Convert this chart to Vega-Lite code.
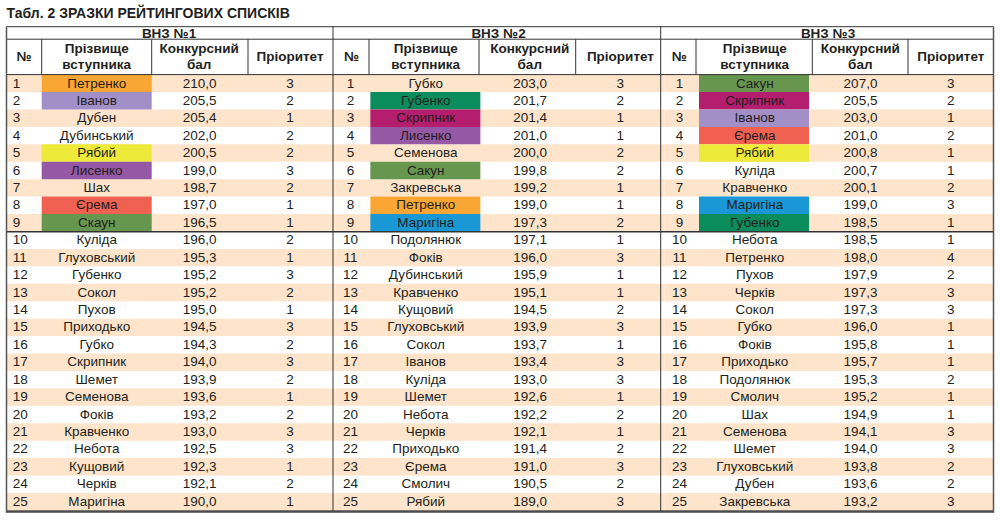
{
  "$schema": "https://vega.github.io/schema/vega-lite/v6.json",
  "width": 1000,
  "height": 523,
  "autosize": {"type": "none"},
  "padding": 0,
  "background": "white",
  "config": {
    "view": {"stroke": null},
    "locale": {"number": {"decimal": ",", "thousands": " ", "grouping": [3], "currency": ["", ""]}},
    "text": {"font": "Liberation Sans", "fill": "#231f20"}
  },
  "datasets": {
    "rows": [
      {"vnz": "ВНЗ №1", "n": 1, "name": "Петренко", "score": 210.0, "prio": 3, "hl": true},
      {"vnz": "ВНЗ №1", "n": 2, "name": "Іванов", "score": 205.5, "prio": 2, "hl": true},
      {"vnz": "ВНЗ №1", "n": 3, "name": "Дубен", "score": 205.4, "prio": 1, "hl": false},
      {"vnz": "ВНЗ №1", "n": 4, "name": "Дубинський", "score": 202.0, "prio": 2, "hl": false},
      {"vnz": "ВНЗ №1", "n": 5, "name": "Рябий", "score": 200.5, "prio": 2, "hl": true},
      {"vnz": "ВНЗ №1", "n": 6, "name": "Лисенко", "score": 199.0, "prio": 3, "hl": true},
      {"vnz": "ВНЗ №1", "n": 7, "name": "Шах", "score": 198.7, "prio": 2, "hl": false},
      {"vnz": "ВНЗ №1", "n": 8, "name": "Єрема", "score": 197.0, "prio": 1, "hl": true},
      {"vnz": "ВНЗ №1", "n": 9, "name": "Скаун", "score": 196.5, "prio": 1, "hl": true},
      {"vnz": "ВНЗ №1", "n": 10, "name": "Куліда", "score": 196.0, "prio": 2, "hl": false},
      {"vnz": "ВНЗ №1", "n": 11, "name": "Глуховський", "score": 195.3, "prio": 1, "hl": false},
      {"vnz": "ВНЗ №1", "n": 12, "name": "Губенко", "score": 195.2, "prio": 3, "hl": false},
      {"vnz": "ВНЗ №1", "n": 13, "name": "Сокол", "score": 195.2, "prio": 2, "hl": false},
      {"vnz": "ВНЗ №1", "n": 14, "name": "Пухов", "score": 195.0, "prio": 1, "hl": false},
      {"vnz": "ВНЗ №1", "n": 15, "name": "Приходько", "score": 194.5, "prio": 3, "hl": false},
      {"vnz": "ВНЗ №1", "n": 16, "name": "Губко", "score": 194.3, "prio": 2, "hl": false},
      {"vnz": "ВНЗ №1", "n": 17, "name": "Скрипник", "score": 194.0, "prio": 3, "hl": false},
      {"vnz": "ВНЗ №1", "n": 18, "name": "Шемет", "score": 193.9, "prio": 2, "hl": false},
      {"vnz": "ВНЗ №1", "n": 19, "name": "Семенова", "score": 193.6, "prio": 1, "hl": false},
      {"vnz": "ВНЗ №1", "n": 20, "name": "Фоків", "score": 193.2, "prio": 2, "hl": false},
      {"vnz": "ВНЗ №1", "n": 21, "name": "Кравченко", "score": 193.0, "prio": 3, "hl": false},
      {"vnz": "ВНЗ №1", "n": 22, "name": "Небота", "score": 192.5, "prio": 3, "hl": false},
      {"vnz": "ВНЗ №1", "n": 23, "name": "Кущовий", "score": 192.3, "prio": 1, "hl": false},
      {"vnz": "ВНЗ №1", "n": 24, "name": "Черків", "score": 192.1, "prio": 2, "hl": false},
      {"vnz": "ВНЗ №1", "n": 25, "name": "Маригіна", "score": 190.0, "prio": 1, "hl": false},
      {"vnz": "ВНЗ №2", "n": 1, "name": "Губко", "score": 203.0, "prio": 3, "hl": false},
      {"vnz": "ВНЗ №2", "n": 2, "name": "Губенко", "score": 201.7, "prio": 2, "hl": true},
      {"vnz": "ВНЗ №2", "n": 3, "name": "Скрипник", "score": 201.4, "prio": 1, "hl": true},
      {"vnz": "ВНЗ №2", "n": 4, "name": "Лисенко", "score": 201.0, "prio": 1, "hl": true},
      {"vnz": "ВНЗ №2", "n": 5, "name": "Семенова", "score": 200.0, "prio": 2, "hl": false},
      {"vnz": "ВНЗ №2", "n": 6, "name": "Сакун", "score": 199.8, "prio": 2, "hl": true},
      {"vnz": "ВНЗ №2", "n": 7, "name": "Закревська", "score": 199.2, "prio": 1, "hl": false},
      {"vnz": "ВНЗ №2", "n": 8, "name": "Петренко", "score": 199.0, "prio": 1, "hl": true},
      {"vnz": "ВНЗ №2", "n": 9, "name": "Маригіна", "score": 197.3, "prio": 2, "hl": true},
      {"vnz": "ВНЗ №2", "n": 10, "name": "Подолянюк", "score": 197.1, "prio": 1, "hl": false},
      {"vnz": "ВНЗ №2", "n": 11, "name": "Фоків", "score": 196.0, "prio": 3, "hl": false},
      {"vnz": "ВНЗ №2", "n": 12, "name": "Дубинський", "score": 195.9, "prio": 1, "hl": false},
      {"vnz": "ВНЗ №2", "n": 13, "name": "Кравченко", "score": 195.1, "prio": 1, "hl": false},
      {"vnz": "ВНЗ №2", "n": 14, "name": "Кущовий", "score": 194.5, "prio": 2, "hl": false},
      {"vnz": "ВНЗ №2", "n": 15, "name": "Глуховський", "score": 193.9, "prio": 3, "hl": false},
      {"vnz": "ВНЗ №2", "n": 16, "name": "Сокол", "score": 193.7, "prio": 1, "hl": false},
      {"vnz": "ВНЗ №2", "n": 17, "name": "Іванов", "score": 193.4, "prio": 3, "hl": false},
      {"vnz": "ВНЗ №2", "n": 18, "name": "Куліда", "score": 193.0, "prio": 3, "hl": false},
      {"vnz": "ВНЗ №2", "n": 19, "name": "Шемет", "score": 192.6, "prio": 1, "hl": false},
      {"vnz": "ВНЗ №2", "n": 20, "name": "Небота", "score": 192.2, "prio": 2, "hl": false},
      {"vnz": "ВНЗ №2", "n": 21, "name": "Черків", "score": 192.1, "prio": 1, "hl": false},
      {"vnz": "ВНЗ №2", "n": 22, "name": "Приходько", "score": 191.4, "prio": 2, "hl": false},
      {"vnz": "ВНЗ №2", "n": 23, "name": "Єрема", "score": 191.0, "prio": 3, "hl": false},
      {"vnz": "ВНЗ №2", "n": 24, "name": "Смолич", "score": 190.5, "prio": 2, "hl": false},
      {"vnz": "ВНЗ №2", "n": 25, "name": "Рябий", "score": 189.0, "prio": 3, "hl": false},
      {"vnz": "ВНЗ №3", "n": 1, "name": "Сакун", "score": 207.0, "prio": 3, "hl": true},
      {"vnz": "ВНЗ №3", "n": 2, "name": "Скрипник", "score": 205.5, "prio": 2, "hl": true},
      {"vnz": "ВНЗ №3", "n": 3, "name": "Іванов", "score": 203.0, "prio": 1, "hl": true},
      {"vnz": "ВНЗ №3", "n": 4, "name": "Єрема", "score": 201.0, "prio": 2, "hl": true},
      {"vnz": "ВНЗ №3", "n": 5, "name": "Рябий", "score": 200.8, "prio": 1, "hl": true},
      {"vnz": "ВНЗ №3", "n": 6, "name": "Куліда", "score": 200.7, "prio": 1, "hl": false},
      {"vnz": "ВНЗ №3", "n": 7, "name": "Кравченко", "score": 200.1, "prio": 2, "hl": false},
      {"vnz": "ВНЗ №3", "n": 8, "name": "Маригіна", "score": 199.0, "prio": 3, "hl": true},
      {"vnz": "ВНЗ №3", "n": 9, "name": "Губенко", "score": 198.5, "prio": 1, "hl": true},
      {"vnz": "ВНЗ №3", "n": 10, "name": "Небота", "score": 198.5, "prio": 1, "hl": false},
      {"vnz": "ВНЗ №3", "n": 11, "name": "Петренко", "score": 198.0, "prio": 4, "hl": false},
      {"vnz": "ВНЗ №3", "n": 12, "name": "Пухов", "score": 197.9, "prio": 2, "hl": false},
      {"vnz": "ВНЗ №3", "n": 13, "name": "Черків", "score": 197.3, "prio": 3, "hl": false},
      {"vnz": "ВНЗ №3", "n": 14, "name": "Сокол", "score": 197.3, "prio": 3, "hl": false},
      {"vnz": "ВНЗ №3", "n": 15, "name": "Губко", "score": 196.0, "prio": 1, "hl": false},
      {"vnz": "ВНЗ №3", "n": 16, "name": "Фоків", "score": 195.8, "prio": 1, "hl": false},
      {"vnz": "ВНЗ №3", "n": 17, "name": "Приходько", "score": 195.7, "prio": 1, "hl": false},
      {"vnz": "ВНЗ №3", "n": 18, "name": "Подолянюк", "score": 195.3, "prio": 2, "hl": false},
      {"vnz": "ВНЗ №3", "n": 19, "name": "Смолич", "score": 195.2, "prio": 1, "hl": false},
      {"vnz": "ВНЗ №3", "n": 20, "name": "Шах", "score": 194.9, "prio": 1, "hl": false},
      {"vnz": "ВНЗ №3", "n": 21, "name": "Семенова", "score": 194.1, "prio": 3, "hl": false},
      {"vnz": "ВНЗ №3", "n": 22, "name": "Шемет", "score": 194.0, "prio": 3, "hl": false},
      {"vnz": "ВНЗ №3", "n": 23, "name": "Глуховський", "score": 193.8, "prio": 2, "hl": false},
      {"vnz": "ВНЗ №3", "n": 24, "name": "Дубен", "score": 193.6, "prio": 2, "hl": false},
      {"vnz": "ВНЗ №3", "n": 25, "name": "Закревська", "score": 193.2, "prio": 3, "hl": false}
    ]
  },
  "resolve": {"scale": {"x": "independent", "y": "independent", "color": "independent"}},
  "layer": [
    {
      "data": {"name": "rows"},
      "transform": [{"filter": "datum.n % 2 == 1"}],
      "mark": {"type": "rect", "fill": "#fde4ca"},
      "encoding": {
        "x": {"field": "vnz", "type": "nominal", "scale": {"type": "band", "domain": ["ВНЗ №1", "ВНЗ №2", "ВНЗ №3"], "range": [6.5, 993.5], "paddingInner": 0, "paddingOuter": 0}, "axis": null},
        "y": {"field": "n", "type": "ordinal", "scale": {"type": "band", "domain": [1,2,3,4,5,6,7,8,9,10,11,12,13,14,15,16,17,18,19,20,21,22,23,24,25], "range": [74.6, 510.4], "paddingInner": 0, "paddingOuter": 0}, "axis": null}
      }
    },
    {
      "data": {"name": "rows"},
      "transform": [{"filter": "datum.hl"}],
      "mark": {"type": "rect", "width": 110},
      "encoding": {
        "x": {"field": "vnz", "type": "nominal", "scale": {"type": "point", "domain": ["ВНЗ №1", "ВНЗ №2", "ВНЗ №3"], "range": [96.7, 754], "padding": 0}, "axis": null},
        "y": {"field": "n", "type": "ordinal", "scale": {"type": "band", "domain": [1,2,3,4,5,6,7,8,9,10,11,12,13,14,15,16,17,18,19,20,21,22,23,24,25], "range": [74.6, 510.4], "paddingInner": 0, "paddingOuter": 0}, "axis": null},
        "color": {"field": "name", "type": "nominal", "legend": null, "scale": {
          "domain": ["Петренко", "Іванов", "Рябий", "Лисенко", "Єрема", "Скаун", "Сакун", "Губенко", "Скрипник", "Маригіна"],
          "range": ["#f9a634", "#a38fc7", "#eeea3a", "#9558a5", "#f16152", "#67964e", "#67964e", "#0b8c5c", "#b51e6e", "#1a97d5"]}}
      }
    },
    {
      "data": {"name": "rows"},
      "transform": [{"filter": "datum.vnz == 'ВНЗ №1'"}],
      "mark": {"type": "text", "align": "left", "baseline": "middle", "fontSize": 13.5},
      "encoding": {
        "x": {"field": "vnz", "type": "nominal", "scale": {"type": "point", "domain": ["ВНЗ №1"], "range": [12.7, 12.7], "padding": 0}, "axis": null},
        "y": {"field": "n", "type": "ordinal", "scale": {"type": "point", "domain": [1,2,3,4,5,6,7,8,9,10,11,12,13,14,15,16,17,18,19,20,21,22,23,24,25], "range": [83.5, 501.7], "padding": 0}, "axis": null},
        "text": {"field": "n", "type": "ordinal"}
      }
    },
    {
      "data": {"name": "rows"},
      "transform": [{"filter": "datum.vnz != 'ВНЗ №1'"}],
      "mark": {"type": "text", "align": "center", "baseline": "middle", "fontSize": 13.5},
      "encoding": {
        "x": {"field": "vnz", "type": "nominal", "scale": {"type": "point", "domain": ["ВНЗ №2", "ВНЗ №3"], "range": [350.5, 679.5], "padding": 0}, "axis": null},
        "y": {"field": "n", "type": "ordinal", "scale": {"type": "point", "domain": [1,2,3,4,5,6,7,8,9,10,11,12,13,14,15,16,17,18,19,20,21,22,23,24,25], "range": [83.5, 501.7], "padding": 0}, "axis": null},
        "text": {"field": "n", "type": "ordinal"}
      }
    },
    {
      "data": {"name": "rows"},
      "mark": {"type": "text", "align": "center", "baseline": "middle", "fontSize": 13.5},
      "encoding": {
        "x": {"field": "vnz", "type": "nominal", "scale": {"type": "point", "domain": ["ВНЗ №1", "ВНЗ №2", "ВНЗ №3"], "range": [96.7, 754.8], "padding": 0}, "axis": null},
        "y": {"field": "n", "type": "ordinal", "scale": {"type": "point", "domain": [1,2,3,4,5,6,7,8,9,10,11,12,13,14,15,16,17,18,19,20,21,22,23,24,25], "range": [83.5, 501.7], "padding": 0}, "axis": null},
        "text": {"field": "name", "type": "nominal"}
      }
    },
    {
      "data": {"name": "rows"},
      "mark": {"type": "text", "align": "center", "baseline": "middle", "fontSize": 13.5},
      "encoding": {
        "x": {"field": "vnz", "type": "nominal", "scale": {"type": "point", "domain": ["ВНЗ №1", "ВНЗ №2", "ВНЗ №3"], "range": [199.7, 860.5], "padding": 0}, "axis": null},
        "y": {"field": "n", "type": "ordinal", "scale": {"type": "point", "domain": [1,2,3,4,5,6,7,8,9,10,11,12,13,14,15,16,17,18,19,20,21,22,23,24,25], "range": [83.5, 501.7], "padding": 0}, "axis": null},
        "text": {"field": "score", "type": "quantitative", "format": ".1f"}
      }
    },
    {
      "data": {"name": "rows"},
      "mark": {"type": "text", "align": "center", "baseline": "middle", "fontSize": 13.5},
      "encoding": {
        "x": {"field": "vnz", "type": "nominal", "scale": {"type": "point", "domain": ["ВНЗ №1", "ВНЗ №2", "ВНЗ №3"], "range": [290, 950.7], "padding": 0}, "axis": null},
        "y": {"field": "n", "type": "ordinal", "scale": {"type": "point", "domain": [1,2,3,4,5,6,7,8,9,10,11,12,13,14,15,16,17,18,19,20,21,22,23,24,25], "range": [83.5, 501.7], "padding": 0}, "axis": null},
        "text": {"field": "prio", "type": "quantitative"}
      }
    },
    {
      "data": {"name": "rows"},
      "transform": [{"filter": "datum.n == 1"}],
      "mark": {"type": "text", "align": "center", "baseline": "middle", "fontSize": 13.5, "fontWeight": "bold"},
      "encoding": {
        "x": {"field": "vnz", "type": "nominal", "scale": {"type": "point", "domain": ["ВНЗ №1", "ВНЗ №2", "ВНЗ №3"], "range": [169, 828], "padding": 0}, "axis": null},
        "y": {"datum": 33.5, "type": "quantitative", "scale": {"domain": [0, 523], "reverse": true, "nice": false, "zero": false}, "axis": null},
        "text": {"field": "vnz", "type": "nominal"}
      }
    },
    {
      "data": {"name": "rows"},
      "transform": [{"filter": "datum.n == 1"}],
      "mark": {"type": "text", "align": "center", "baseline": "middle", "fontSize": 13.5, "fontWeight": "bold", "text": "№"},
      "encoding": {
        "x": {"field": "vnz", "type": "nominal", "scale": {"type": "point", "domain": ["ВНЗ №1", "ВНЗ №2", "ВНЗ №3"], "range": [24, 679.3], "padding": 0}, "axis": null},
        "y": {"datum": 57, "type": "quantitative", "scale": {"domain": [0, 523], "reverse": true, "nice": false, "zero": false}, "axis": null}
      }
    },
    {
      "data": {"name": "rows"},
      "transform": [{"filter": "datum.n == 1"}],
      "mark": {"type": "text", "align": "center", "baseline": "middle", "fontSize": 13.5, "fontWeight": "bold", "lineHeight": 15.7, "text": ["Прізвище", "вступника"]},
      "encoding": {
        "x": {"field": "vnz", "type": "nominal", "scale": {"type": "point", "domain": ["ВНЗ №1", "ВНЗ №2", "ВНЗ №3"], "range": [96.7, 754.7], "padding": 0}, "axis": null},
        "y": {"datum": 49.4, "type": "quantitative", "scale": {"domain": [0, 523], "reverse": true, "nice": false, "zero": false}, "axis": null}
      }
    },
    {
      "data": {"name": "rows"},
      "transform": [{"filter": "datum.n == 1"}],
      "mark": {"type": "text", "align": "center", "baseline": "middle", "fontSize": 13.5, "fontWeight": "bold", "lineHeight": 15.7, "text": ["Конкурсний", "бал"]},
      "encoding": {
        "x": {"field": "vnz", "type": "nominal", "scale": {"type": "point", "domain": ["ВНЗ №1", "ВНЗ №2", "ВНЗ №3"], "range": [199.2, 860.3], "padding": 0}, "axis": null},
        "y": {"datum": 49.4, "type": "quantitative", "scale": {"domain": [0, 523], "reverse": true, "nice": false, "zero": false}, "axis": null}
      }
    },
    {
      "data": {"name": "rows"},
      "transform": [{"filter": "datum.n == 1"}],
      "mark": {"type": "text", "align": "center", "baseline": "middle", "fontSize": 13.5, "fontWeight": "bold", "text": "Пріоритет"},
      "encoding": {
        "x": {"field": "vnz", "type": "nominal", "scale": {"type": "point", "domain": ["ВНЗ №1", "ВНЗ №2", "ВНЗ №3"], "range": [290, 950.8], "padding": 0}, "axis": null},
        "y": {"datum": 57, "type": "quantitative", "scale": {"domain": [0, 523], "reverse": true, "nice": false, "zero": false}, "axis": null}
      }
    },
    {
      "data": {"name": "rows"},
      "transform": [{"filter": "datum.n == 1 && datum.vnz == 'ВНЗ №1'"}],
      "layer": [
        {"mark": {"type": "text", "align": "left", "baseline": "middle", "fontSize": 14, "fontWeight": "bold", "text": "Табл. 2  ЗРАЗКИ РЕЙТИНГОВИХ СПИСКІВ"},
         "encoding": {"x": {"datum": 6.5, "type": "quantitative", "scale": {"domain": [0, 1000], "nice": false, "zero": false}, "axis": null},
                      "y": {"datum": 14, "type": "quantitative", "scale": {"domain": [0, 523], "reverse": true, "nice": false, "zero": false}, "axis": null}}},
        {"mark": {"type": "rule", "stroke": "#333", "strokeWidth": 1},
         "encoding": {"x": {"datum": 6.5, "type": "quantitative", "scale": {"domain": [0, 1000], "nice": false, "zero": false}, "axis": null}, "x2": {"datum": 993.5},
                      "y": {"datum": 26.7, "type": "quantitative", "scale": {"domain": [0, 523], "reverse": true, "nice": false, "zero": false}, "axis": null}}},
        {"mark": {"type": "rule", "stroke": "#333", "strokeWidth": 1},
         "encoding": {"x": {"datum": 6.5, "type": "quantitative", "scale": {"domain": [0, 1000], "nice": false, "zero": false}, "axis": null}, "x2": {"datum": 993.5},
                      "y": {"datum": 39.2, "type": "quantitative", "scale": {"domain": [0, 523], "reverse": true, "nice": false, "zero": false}, "axis": null}}},
        {"mark": {"type": "rule", "stroke": "#333", "strokeWidth": 1},
         "encoding": {"x": {"datum": 6.5, "type": "quantitative", "scale": {"domain": [0, 1000], "nice": false, "zero": false}, "axis": null}, "x2": {"datum": 993.5},
                      "y": {"datum": 74.6, "type": "quantitative", "scale": {"domain": [0, 523], "reverse": true, "nice": false, "zero": false}, "axis": null}}},
        {"mark": {"type": "rule", "stroke": "#333", "strokeWidth": 1.6},
         "encoding": {"x": {"datum": 6.5, "type": "quantitative", "scale": {"domain": [0, 1000], "nice": false, "zero": false}, "axis": null}, "x2": {"datum": 993.5},
                      "y": {"datum": 231.8, "type": "quantitative", "scale": {"domain": [0, 523], "reverse": true, "nice": false, "zero": false}, "axis": null}}},
        {"mark": {"type": "rule", "stroke": "#4d4d4d", "strokeWidth": 2.5},
         "encoding": {"x": {"datum": 6.5, "type": "quantitative", "scale": {"domain": [0, 1000], "nice": false, "zero": false}, "axis": null}, "x2": {"datum": 993.5},
                      "y": {"datum": 511.6, "type": "quantitative", "scale": {"domain": [0, 523], "reverse": true, "nice": false, "zero": false}, "axis": null}}},
        {"mark": {"type": "rule", "stroke": "#555", "strokeWidth": 1.5},
         "encoding": {"x": {"datum": 6.5, "type": "quantitative", "scale": {"domain": [0, 1000], "nice": false, "zero": false}, "axis": null},
                      "y": {"datum": 26.7, "type": "quantitative", "scale": {"domain": [0, 523], "reverse": true, "nice": false, "zero": false}, "axis": null}, "y2": {"datum": 512.8}}},
        {"mark": {"type": "rule", "stroke": "#555", "strokeWidth": 1.5},
         "encoding": {"x": {"datum": 993.5, "type": "quantitative", "scale": {"domain": [0, 1000], "nice": false, "zero": false}, "axis": null},
                      "y": {"datum": 26.7, "type": "quantitative", "scale": {"domain": [0, 523], "reverse": true, "nice": false, "zero": false}, "axis": null}, "y2": {"datum": 512.8}}},
        {"mark": {"type": "rule", "stroke": "#333", "strokeWidth": 1},
         "encoding": {"x": {"datum": 333, "type": "quantitative", "scale": {"domain": [0, 1000], "nice": false, "zero": false}, "axis": null},
                      "y": {"datum": 26.7, "type": "quantitative", "scale": {"domain": [0, 523], "reverse": true, "nice": false, "zero": false}, "axis": null}, "y2": {"datum": 511}}},
        {"mark": {"type": "rule", "stroke": "#333", "strokeWidth": 1},
         "encoding": {"x": {"datum": 660.7, "type": "quantitative", "scale": {"domain": [0, 1000], "nice": false, "zero": false}, "axis": null},
                      "y": {"datum": 26.7, "type": "quantitative", "scale": {"domain": [0, 523], "reverse": true, "nice": false, "zero": false}, "axis": null}, "y2": {"datum": 511}}},
        {"mark": {"type": "rule", "stroke": "#333", "strokeWidth": 1},
         "encoding": {"x": {"datum": 41.7, "type": "quantitative", "scale": {"domain": [0, 1000], "nice": false, "zero": false}, "axis": null},
                      "y": {"datum": 39.2, "type": "quantitative", "scale": {"domain": [0, 523], "reverse": true, "nice": false, "zero": false}, "axis": null}, "y2": {"datum": 74.6}}},
        {"mark": {"type": "rule", "stroke": "#333", "strokeWidth": 1},
         "encoding": {"x": {"datum": 151.7, "type": "quantitative", "scale": {"domain": [0, 1000], "nice": false, "zero": false}, "axis": null},
                      "y": {"datum": 39.2, "type": "quantitative", "scale": {"domain": [0, 523], "reverse": true, "nice": false, "zero": false}, "axis": null}, "y2": {"datum": 74.6}}},
        {"mark": {"type": "rule", "stroke": "#333", "strokeWidth": 1},
         "encoding": {"x": {"datum": 248, "type": "quantitative", "scale": {"domain": [0, 1000], "nice": false, "zero": false}, "axis": null},
                      "y": {"datum": 39.2, "type": "quantitative", "scale": {"domain": [0, 523], "reverse": true, "nice": false, "zero": false}, "axis": null}, "y2": {"datum": 74.6}}},
        {"mark": {"type": "rule", "stroke": "#333", "strokeWidth": 1},
         "encoding": {"x": {"datum": 369, "type": "quantitative", "scale": {"domain": [0, 1000], "nice": false, "zero": false}, "axis": null},
                      "y": {"datum": 39.2, "type": "quantitative", "scale": {"domain": [0, 523], "reverse": true, "nice": false, "zero": false}, "axis": null}, "y2": {"datum": 74.6}}},
        {"mark": {"type": "rule", "stroke": "#333", "strokeWidth": 1},
         "encoding": {"x": {"datum": 479, "type": "quantitative", "scale": {"domain": [0, 1000], "nice": false, "zero": false}, "axis": null},
                      "y": {"datum": 39.2, "type": "quantitative", "scale": {"domain": [0, 523], "reverse": true, "nice": false, "zero": false}, "axis": null}, "y2": {"datum": 74.6}}},
        {"mark": {"type": "rule", "stroke": "#333", "strokeWidth": 1},
         "encoding": {"x": {"datum": 575.7, "type": "quantitative", "scale": {"domain": [0, 1000], "nice": false, "zero": false}, "axis": null},
                      "y": {"datum": 39.2, "type": "quantitative", "scale": {"domain": [0, 523], "reverse": true, "nice": false, "zero": false}, "axis": null}, "y2": {"datum": 74.6}}},
        {"mark": {"type": "rule", "stroke": "#333", "strokeWidth": 1},
         "encoding": {"x": {"datum": 696, "type": "quantitative", "scale": {"domain": [0, 1000], "nice": false, "zero": false}, "axis": null},
                      "y": {"datum": 39.2, "type": "quantitative", "scale": {"domain": [0, 523], "reverse": true, "nice": false, "zero": false}, "axis": null}, "y2": {"datum": 74.6}}},
        {"mark": {"type": "rule", "stroke": "#333", "strokeWidth": 1},
         "encoding": {"x": {"datum": 812.3, "type": "quantitative", "scale": {"domain": [0, 1000], "nice": false, "zero": false}, "axis": null},
                      "y": {"datum": 39.2, "type": "quantitative", "scale": {"domain": [0, 523], "reverse": true, "nice": false, "zero": false}, "axis": null}, "y2": {"datum": 74.6}}},
        {"mark": {"type": "rule", "stroke": "#333", "strokeWidth": 1},
         "encoding": {"x": {"datum": 908, "type": "quantitative", "scale": {"domain": [0, 1000], "nice": false, "zero": false}, "axis": null},
                      "y": {"datum": 39.2, "type": "quantitative", "scale": {"domain": [0, 523], "reverse": true, "nice": false, "zero": false}, "axis": null}, "y2": {"datum": 74.6}}}
      ]
    }
  ]
}
